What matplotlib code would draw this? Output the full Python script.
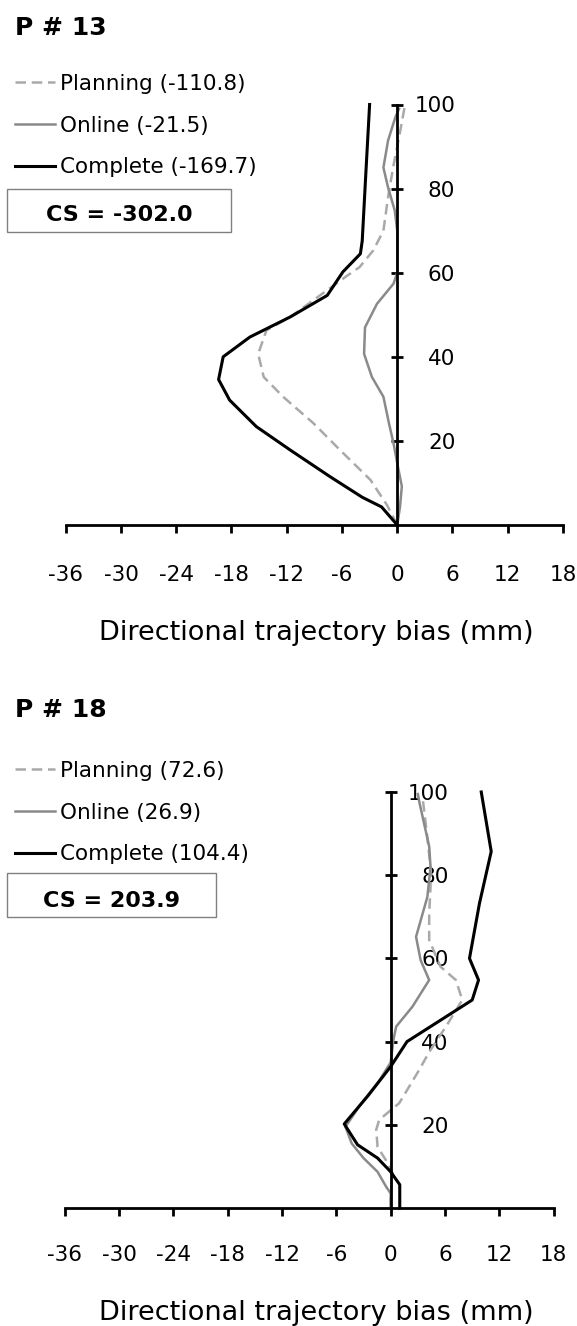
import numpy as np
import matplotlib
matplotlib.use('Agg')
import matplotlib.pyplot as plt
from matplotlib.patches import Rectangle

plt.rcParams['font.family'] = ['DejaVu Sans']
plt.rcParams['axes.unicode_minus'] = False

W, H = 577, 1326

# x ticks (mm) and y ticks (% of movement)
xticks = [-36, -30, -24, -18, -12, -6, 0, 6, 12, 18]
yticks = [20, 40, 60, 80, 100]

# ---- P # 13 ----
p13_title = 'P # 13'
p13_labels = ['Planning (-110.8)', 'Online (-21.5)', 'Complete (-169.7)']
p13_cs = 'CS = -302.0'
p13_plan_x = [0, -1.1, -2.9, -6.2, -9.1, -12.4, -14.5, -15.1, -14.2, -11.6, -8.2,
              -5.3, -4.1, -2.6, -1.5, -1.0, -0.45, 0.27, 0.8]
p13_plan_y = [0, 4.7, 10.7, 17.8, 24.2, 30.5, 35.2, 40.7, 46.3, 49.5, 54.9,
              59.5, 61.3, 65.3, 70, 77.9, 85, 93, 99.4]
p13_onl_x = [0, 0.3, 0.5, 0, -0.4, -0.9, -1.5, -2.75, -3.6, -3.5, -2.2, -0.4,
             0, 0, -0.27, -1.0, -1.5, -1.0, -0.2, 0.2]
p13_onl_y = [0, 4.3, 9.2, 14.7, 19.4, 24.2, 30.5, 35.2, 40.7, 47, 52.6, 57.4,
             60, 70, 74.8, 80.3, 85, 91.4, 97, 99]
p13_com_x = [0, -1.7, -3.8, -7.3, -11.6, -15.3, -18.2, -19.4, -18.9, -16.0,
             -11.6, -7.6, -5.9, -4.0, -3.8, -3.4, -3.0]
p13_com_y = [0, 4.3, 6.6, 11.5, 17.8, 23.4, 29.7, 34.6, 40, 44.7,
             49.5, 54.6, 60.2, 64.5, 67.6, 84, 100]

# ---- P # 18 ----
p18_title = 'P # 18'
p18_labels = ['Planning (72.6)', 'Online (26.9)', 'Complete (104.4)']
p18_cs = 'CS = 203.9'
p18_plan_x = [0, 0, 0.2, -0.53, -1.45, -1.6, -1.27, 0.94, 3.15, 4.25, 6.1, 7.9,
              7.2, 5.5, 4.25, 4.25, 4.4, 4.4, 4.0, 3.5]
p18_plan_y = [0, 2.7, 8.4, 11.5, 14.7, 18.8, 21.2, 25.2, 33.2, 37.5, 43.6, 50,
              54.8, 58, 64.4, 70.8, 77.3, 82, 90, 99]
p18_onl_x = [0, 0, -0.5, -1.45, -3.0, -4.3, -5.0, -3.3, -1.3, 0, 0.3, 0.6, 2.4,
             4.25, 3.3, 2.8, 4.05, 4.4, 4.25, 3.15, 3.0]
p18_onl_y = [0, 3.5, 5.1, 8.7, 12, 15.5, 19.5, 25, 30.5, 35, 40.4, 43.6, 48.4,
             54.8, 59.6, 65.2, 74.8, 82, 86.9, 97.7, 99.5]
p18_com_x = [1.0, 1.0, 0, -1.45, -3.66, -5.13, -2.5, 0, 1.8, 9.0, 9.7, 8.7,
             9.8, 11.1, 10.0]
p18_com_y = [0, 5.6, 8.7, 12.0, 15.2, 20.2, 27, 34, 40, 50, 54.8, 60,
             73.2, 85.7, 100]

fs_tick = 15.5
c_plan = '#a9a9a9'
c_onl = '#8a8a8a'


def px(x, y):
    # pixel (from top-left) -> figure fraction
    return x / W, 1 - y / H


def draw_panel(fig, rect, series, labels, title, cs, geo):
    ax = fig.add_axes(rect)
    (px_, py_), (ox, oy), (cx, cy) = geo['plan'], geo['onl'], geo['com']
    l1, = ax.plot(px_, py_, color=c_plan, lw=1.8, dashes=(4.2, 2.3), clip_on=False)
    l2, = ax.plot(ox, oy, color=c_onl, lw=1.8, clip_on=False)
    l3, = ax.plot(cx, cy, color='k', lw=2.2, clip_on=False)

    ax.set_xlim(-36, 18)
    ax.set_ylim(0, 100)
    for s in ['top', 'right']:
        ax.spines[s].set_visible(False)
    ax.spines['left'].set_position(('data', 0))
    ax.spines['bottom'].set_position(('data', 0))
    ax.spines['left'].set_linewidth(2.0)
    ax.spines['bottom'].set_linewidth(2.0)
    ax.set_xticks(xticks)
    ax.set_xticklabels([str(v) for v in xticks])
    ax.set_yticks(yticks)
    ax.set_yticklabels([str(v) for v in yticks])
    ax.tick_params(axis='x', direction='out', length=6, width=2.0,
                   labelsize=fs_tick, pad=series['xpad'])
    ax.tick_params(axis='y', direction='inout', length=8, width=2.0,
                   labelsize=fs_tick, pad=-45.8)
    ax.set_xlabel('Directional trajectory bias (mm)', fontsize=19.5, va='baseline')
    ax.xaxis.set_label_coords(*series['xlab'])

    tx, ty = px(15, series['title_y'])
    fig.text(tx, ty, title, fontsize=18, fontweight='bold', va='baseline')

    lx, ly = px(15, series['leg_top'])
    fig.legend([l1, l2, l3], labels, loc='upper left', bbox_to_anchor=(lx, ly),
               frameon=False, fontsize=fs_tick, handlelength=1.86,
               handletextpad=0.23, labelspacing=1.0, borderpad=0,
               borderaxespad=0)

    bx0, by0, bx1, by1 = series['box']
    fig.patches.append(Rectangle(px(bx0, by1), (bx1 - bx0) / W, (by1 - by0) / H,
                                 transform=fig.transFigure, fill=False,
                                 edgecolor='#808080', lw=1.0))
    cxp, cyp = px((bx0 + bx1) / 2, series['cs_base'])
    fig.text(cxp, cyp, cs, fontsize=16, fontweight='bold', ha='center',
             va='baseline')
    return ax


fig = plt.figure(figsize=(W / 100, H / 100), dpi=100)

draw_panel(fig, [65.7 / W, (H - 525) / H, 497.3 / W, 420.5 / H],
           dict(xpad=23.0, xlab=(0.5047, -0.273), title_y=35, leg_top=74,
                box=(7, 189, 231, 232), cs_base=221),
           p13_labels, p13_title, p13_cs,
           dict(plan=(p13_plan_x, p13_plan_y), onl=(p13_onl_x, p13_onl_y),
                com=(p13_com_x, p13_com_y)))

draw_panel(fig, [64.7 / W, (H - 1208) / H, 489 / W, 416 / H],
           dict(xpad=20.5, xlab=(0.515, -0.269), title_y=717, leg_top=761,
                box=(7, 873, 216, 917), cs_base=906.7),
           p18_labels, p18_title, p18_cs,
           dict(plan=(p18_plan_x, p18_plan_y), onl=(p18_onl_x, p18_onl_y),
                com=(p18_com_x, p18_com_y)))

fig.savefig('out.png', dpi=100)
